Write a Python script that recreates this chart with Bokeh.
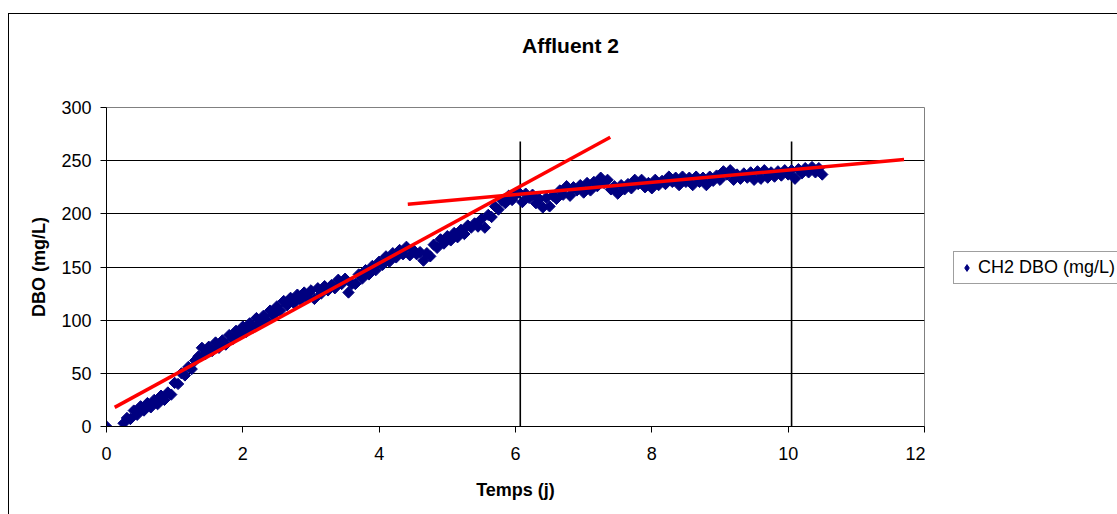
from bokeh.plotting import figure
from bokeh.models import Range1d, FixedTicker, Legend, LegendItem, Label
from bokeh.layouts import column, row
from bokeh.embed import file_html
from bokeh.resources import INLINE
import math

# ---- data ----
t_days = [0.0,
    0.25, 0.30, 0.35, 0.40, 0.45, 0.50, 0.55, 0.60, 0.65, 0.70, 0.75, 0.80, 0.85, 0.90, 0.95, 1.00,
    1.05, 1.10, 1.15, 1.20, 1.25, 1.30, 1.35, 1.40, 1.45, 1.50, 1.55, 1.60, 1.65, 1.70, 1.75, 1.80,
    1.85, 1.90, 1.95, 2.00,
    2.05, 2.10, 2.15, 2.20, 2.25, 2.30, 2.35, 2.40, 2.45, 2.50, 2.55, 2.60, 2.65, 2.70, 2.75, 2.80,
    2.85, 2.90, 2.95, 3.00, 3.05, 3.10, 3.15, 3.20, 3.25, 3.30, 3.35, 3.40, 3.45, 3.50, 3.55, 3.60,
    3.65, 3.70, 3.75, 3.80, 3.85, 3.90, 3.95, 4.00,
    4.05, 4.10, 4.15, 4.20, 4.25, 4.30, 4.35, 4.40, 4.45, 4.50, 4.55, 4.60, 4.65, 4.70, 4.75, 4.80,
    4.85, 4.90, 4.95, 5.00, 5.05, 5.10, 5.15, 5.20, 5.25, 5.30, 5.35, 5.40, 5.45, 5.50, 5.55, 5.60,
    5.65, 5.70, 5.75, 5.80, 5.85, 5.90, 5.95, 6.00,
    6.05, 6.10, 6.15, 6.20, 6.25, 6.30, 6.35, 6.40, 6.45, 6.50, 6.55, 6.60, 6.65, 6.70, 6.75, 6.80,
    6.85, 6.90, 6.95, 7.00, 7.05, 7.10, 7.15, 7.20, 7.25, 7.30, 7.35, 7.40, 7.45, 7.50, 7.55, 7.60,
    7.65, 7.70, 7.75, 7.80, 7.85, 7.90, 7.95, 8.00,
    8.05, 8.10, 8.15, 8.20, 8.25, 8.30, 8.35, 8.40, 8.45, 8.50, 8.55, 8.60, 8.65, 8.70, 8.75, 8.80,
    8.85, 8.90, 8.95, 9.00, 9.05, 9.10, 9.15, 9.20, 9.25, 9.30, 9.35, 9.40, 9.45, 9.50, 9.55, 9.60,
    9.65, 9.70, 9.75, 9.80, 9.85, 9.90, 9.95, 10.00, 10.05, 10.10, 10.15, 10.20, 10.25, 10.30,
    10.35, 10.40, 10.45, 10.50]

dbo_mgL = [0,
    3, 8, 7, 15, 11, 19, 15, 22, 18, 25, 21, 29, 25, 32, 30, 41, 40, 50, 48, 56,
    54, 62, 66, 74, 68, 75, 71, 79, 74, 81, 77, 86, 82, 90, 86, 94,
    89, 97, 93, 102, 97, 104, 100, 109, 105, 113, 109, 118, 114, 121, 116, 124, 119, 126, 121, 128,
    120, 130, 125, 132, 128, 133, 130, 138, 134, 139, 126, 134, 134, 143, 139, 147, 143, 151, 147, 155,
    152, 160, 155, 163, 159, 166, 162, 169, 161, 166, 162, 164, 156, 163, 160, 171, 168, 176, 172, 179,
    175, 182, 178, 185, 181, 189, 187, 191, 188, 195, 187, 199, 197, 207, 204, 213, 210, 217, 213, 218,
    220, 211, 219, 215, 218, 210, 214, 206, 215, 207, 217, 214, 222, 218, 226, 217, 225, 222, 227, 220,
    229, 222, 230, 226, 234, 229, 232, 223, 226, 219, 227, 223, 228, 224, 232, 228, 232, 225, 229, 224,
    232, 227, 231, 228, 235, 230, 234, 227, 235, 230, 234, 227, 235, 230, 234, 227, 235, 231, 236, 232,
    240, 237, 241, 232, 237, 233, 238, 234, 239, 232, 240, 233, 241, 234, 239, 235, 240, 236, 241, 237,
    241, 233, 242, 238, 243, 239, 244, 239, 243, 237]

trend1_x = [0.12, 7.39]
trend1_y = [18, 272]
trend2_x = [4.42, 11.70]
trend2_y = [209, 251]

vline_x = [6.07, 10.05]
vline_bottom = [0, 0]
vline_top = [268, 268]

x_ticks = [0, 2, 4, 6, 8, 10, 12]
y_ticks = [0, 50, 100, 150, 200, 250, 300]

title_text = "Affluent 2"
series_name = "CH2 DBO (mg/L)"

FONT = "Liberation Sans"
NAVY = "#000080"

# ---------- title strip ----------
tf = figure(width=1108, height=60, output_backend="svg", toolbar_location=None,
            x_range=Range1d(0, 1), y_range=Range1d(0, 1),
            x_axis_type=None, y_axis_type=None, min_border=0)
tf.grid.visible = False
tf.outline_line_color = None
tf.add_layout(Label(x=561, y=29, x_units="screen", y_units="screen", text=title_text,
                    text_font=FONT, text_font_size="21px", text_font_style="bold",
                    text_align="center", text_baseline="middle", text_color="black"))

# ---------- main plot ----------
p = figure(width=916, height=440, output_backend="svg", toolbar_location=None,
           x_range=Range1d(0, 12), y_range=Range1d(0, 300),
           min_border_left=97, min_border_right=1, min_border_top=33, min_border_bottom=88)
p.background_fill_color = "white"
p.border_fill_color = "white"
p.outline_line_color = "#808080"
p.outline_line_width = 1

for ax in (p.xaxis[0], p.yaxis[0]):
    ax.axis_line_color = "black"
    ax.major_tick_line_color = "black"
    ax.minor_tick_line_color = None
    ax.major_tick_in = 0
    ax.major_tick_out = 6
    ax.major_label_text_font = FONT
    ax.major_label_text_font_size = "18px"
    ax.major_label_text_color = "black"
    ax.axis_label_text_font = FONT
    ax.axis_label_text_font_size = "18px"
    ax.axis_label_text_font_style = "bold"
    ax.axis_label_text_color = "black"

p.xaxis.ticker = FixedTicker(ticks=x_ticks)
p.yaxis.ticker = FixedTicker(ticks=y_ticks)
p.xaxis.major_label_standoff = 14
p.yaxis.major_label_standoff = 9
p.xaxis.axis_label = "Temps (j)"
p.yaxis.axis_label = "DBO (mg/L)"
p.xaxis.axis_label_standoff = 17
p.yaxis.axis_label_standoff = 9

p.xgrid.visible = False
p.ygrid.ticker = FixedTicker(ticks=y_ticks[1:-1])
p.ygrid.grid_line_color = "black"
p.ygrid.grid_line_width = 1

p.segment(x0=vline_x, y0=vline_bottom, x1=vline_x, y1=vline_top, line_color="black", line_width=1.6)

p.scatter(t_days, dbo_mgL, marker="square", size=8, angle=math.pi / 4,
          fill_color=NAVY, line_color=NAVY, line_width=1)

p.line(trend1_x, trend1_y, line_color="#FF0000", line_width=3.5)
p.line(trend2_x, trend2_y, line_color="#FF0000", line_width=3.5)

# ---------- legend strip ----------
lg = figure(width=192, height=440, output_backend="svg", toolbar_location=None,
            x_range=Range1d(-2, -1), y_range=Range1d(-2, -1),
            x_axis_type=None, y_axis_type=None, min_border=0)
lg.grid.visible = False
lg.outline_line_color = None
# same series, drawn outside this strip's ranges: only its legend swatch shows
swatch = lg.scatter(t_days, dbo_mgL, marker="diamond", size=7,
                    fill_color=NAVY, line_color=NAVY)
legend = Legend(items=[LegendItem(label=series_name, renderers=[swatch])],
                location=(28, 142), orientation="vertical",
                padding=4, spacing=0, margin=0,
                glyph_width=17, glyph_height=23, label_height=23, label_standoff=3,
                label_text_font=FONT, label_text_font_size="18px", label_text_color="black",
                border_line_color="#404040", border_line_width=1,
                background_fill_color="white", background_fill_alpha=1)
lg.add_layout(legend)

layout = column(tf, row(p, lg, spacing=0), spacing=0,
                styles={"margin-left": "8px", "margin-top": "13px",
                        "border-left": "1px solid black", "border-top": "1px solid black"})

open("out.html", "w").write(file_html(layout, INLINE))
